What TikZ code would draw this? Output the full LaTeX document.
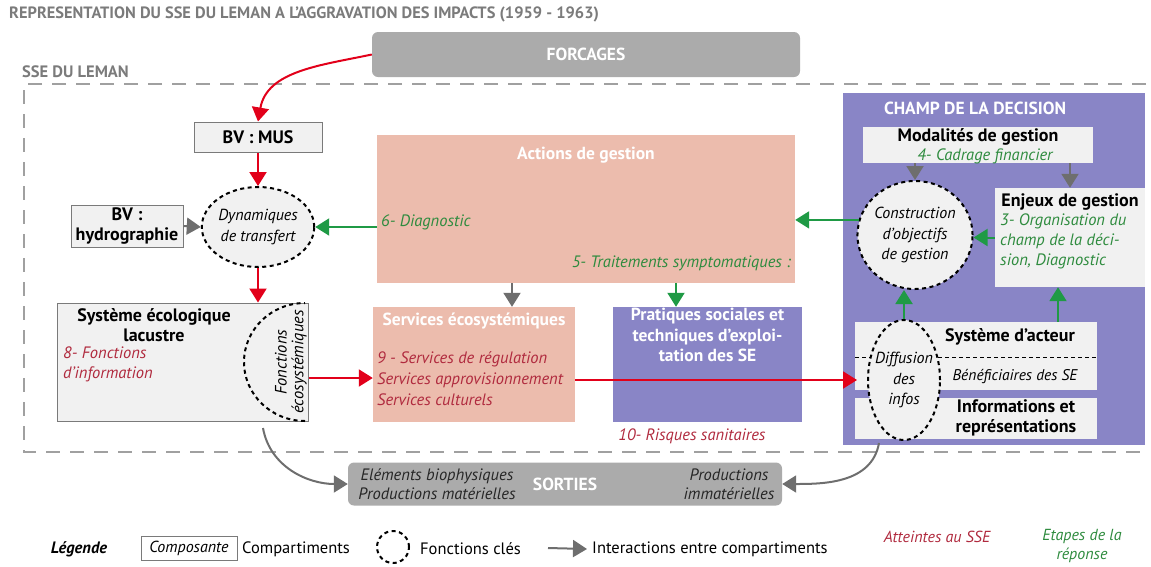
\documentclass[tikz,border=0pt]{standalone}
\usepackage{fontspec}
\setmainfont{PT Sans}
\usetikzlibrary{arrows.meta,shapes.geometric,calc}
\definecolor{redA}{HTML}{E2001A}
\definecolor{redT}{HTML}{B02A3E}
\definecolor{greenA}{HTML}{1F9A45}
\definecolor{greenT}{HTML}{2E8B3E}
\definecolor{grayA}{HTML}{6E6E6E}
\definecolor{purp}{HTML}{8985C6}
\definecolor{salmon}{HTML}{ECBCAD}
\definecolor{boxfill}{HTML}{F1F1F1}
\definecolor{boxline}{HTML}{7A7A7A}
\definecolor{forc}{HTML}{ABABAB}
\definecolor{titlegray}{HTML}{7B7B7B}
\definecolor{bnd}{HTML}{A0A0A0}
\begin{document}
\begin{tikzpicture}[x=1pt,y=-1pt,
  arr/.style={line width=2pt,-{Triangle[length=14pt,width=17pt]}},
  redarr/.style={arr,draw=redA},
  greenarr/.style={arr,draw=greenA},
  grayarr/.style={arr,draw=grayA},
  compbox/.style={draw=boxline,fill=boxfill,line width=1pt,inner sep=0pt},
  plainbox/.style={fill=boxfill,inner sep=0pt},
  func/.style={ellipse,draw=black,fill=boxfill,line width=2pt,dash pattern=on 4pt off 3.5pt,inner sep=0pt,align=center,font=\itshape\fontsize{16}{20.5}\selectfont},
  ttl/.style={font=\bfseries\fontsize{18}{20.5}\selectfont,text=black,align=center,inner sep=0pt},
  whttl/.style={font=\bfseries\fontsize{17.5}{20.5}\selectfont,text=white,align=center,inner sep=0pt},
  itl/.style={font=\itshape\fontsize{16.5}{20}\selectfont,inner sep=0pt},
  redtxt/.style={itl,text=redT},
  greentxt/.style={itl,text=greenT},
  leg/.style={font=\fontsize{16.5}{19}\selectfont,inner sep=0pt}]
\useasboundingbox (0,0) rectangle (1151,566);

% title
\node[font=\bfseries\fontsize{16.4}{18}\selectfont,text=titlegray,anchor=west,inner sep=0pt] (title) at (9,14) {REPRESENTATION DU SSE DU LEMAN A L'AGGRAVATION DES IMPACTS (1959 - 1963)};
\node[font=\bfseries\fontsize{16.5}{18}\selectfont,text=titlegray,anchor=west,inner sep=0pt] (sse) at (22,72) {SSE DU LEMAN};
% boundary
\draw[bnd,line width=1.6pt,dash pattern=on 14pt off 10pt] (1146,84) -- (24,84) -- (24,452) -- (1146,452);

% forcages
\node[fill=forc,rounded corners=6pt,minimum width=428,minimum height=45,whttl] (forc) at (586,54.5) {FORCAGES};

% left column
\node[compbox,minimum width=128,minimum height=30,ttl] (mus) at (258,137) {BV : MUS};
\node[compbox,minimum width=112,minimum height=42,ttl] (hydro) at (127,226) {BV :\\hydrographie};
\node[func,minimum width=92,minimum height=80] (dyn) at (258,227) {Dynamiques\\de transfert};
\node[compbox,minimum width=251,minimum height=118] (seco) at (182.5,362) {};
\node[ttl] (secot) at (154,325) {Système écologique\\lacustre};
\node[redtxt,anchor=north west,align=left] (f8) at (63,347) {8- Fonctions\\d'information};
\draw[black,line width=2pt,dash pattern=on 4pt off 3.5pt] (305,421) arc[start angle=90,end angle=270,x radius=61,y radius=59];
\node[itl,rotate=90] (fe1) at (281,362) {Fonctions};
\node[itl,rotate=90] (fe2) at (299,362) {écosystémiques};

% actions de gestion
\node[fill=salmon,minimum width=418,minimum height=148,inner sep=0pt] (act) at (586,209) {};
\node[whttl] (actt) at (586,155) {Actions de gestion};
\node[greentxt,anchor=west] (d6) at (381,222) {6- Diagnostic};
\node[greentxt,anchor=east] (t5) at (791,263) {5- Traitements symptomatiques :};

% services
\node[fill=salmon,minimum width=202,minimum height=115,inner sep=0pt] (serv) at (474,364.5) {};
\node[whttl] (servt) at (474,321) {Services écosystémiques};
\node[redtxt,anchor=north west,align=left,font=\itshape\fontsize{16.5}{21}\selectfont] (s9) at (377,351) {9 - Services de régulation\\Services approvisionnement\\Services culturels};

% pratiques
\node[fill=purp,minimum width=189,minimum height=115,inner sep=0pt] (prat) at (707.5,364.5) {};
\node[whttl,anchor=north] (pratt) at (707.5,308) {Pratiques sociales et\\techniques d'exploi-\\tation des SE};
\node[redtxt] (r10) at (692,436) {10- Risques sanitaires};

% champ de la decision
\node[fill=purp,minimum width=302,minimum height=352,inner sep=0pt] (champ) at (994,269) {};
\node[whttl] (champt) at (975,108) {CHAMP DE LA DECISION};
\node[plainbox,minimum width=230,minimum height=36] (mod) at (978,145) {};
\node[ttl] (modt) at (978,137) {Modalités de gestion};
\node[greentxt] (mod4) at (985,156) {4- Cadrage financier};
\node[plainbox,minimum width=150,minimum height=99] (enj) at (1070,237.5) {};
\node[ttl] (enjt) at (1070,202) {Enjeux de gestion};
\node[greentxt,anchor=north west,align=left] (enj3) at (1000,214) {3- Organisation du\\champ de la déci-\\sion, Diagnostic};
\node[func,minimum width=100,minimum height=108] (cons) at (915,235) {Construction\\d'objectifs\\de gestion};

\node[plainbox,minimum width=242,minimum height=68] (sa) at (976,356) {};
\node[plainbox,minimum width=242,minimum height=41] (inf) at (976,418.5) {};
\node[func,minimum width=72,minimum height=120,fill=boxfill] (diff) at (904,380) {};
\draw[black,line width=1pt,dash pattern=on 4pt off 3pt] (855,357) -- (870,357);
\draw[black,line width=1pt,dash pattern=on 4pt off 3pt] (938,357) -- (1097,357);
\node[func,draw=none,fill=none] (difft) at (904,380) {Diffusion\\des\\infos};
\node[ttl] (sat) at (1010,337) {Système d'acteur};
\node[itl,font=\itshape\fontsize{15.5}{18}\selectfont] (ben) at (1015,377) {Bénéficiaires des SE};
\node[ttl] (inft) at (1016,418) {Informations et\\représentations};

% sorties
\node[fill=forc,rounded corners=6pt,minimum width=434,minimum height=43,whttl] (sort) at (565,484) {SORTIES};
\node[itl,align=center,font=\itshape\fontsize{16.5}{19.5}\selectfont,text=black!85] (so1) at (437,484) {Eléments biophysiques\\Productions matérielles};
\node[itl,align=center,font=\itshape\fontsize{16.5}{19.5}\selectfont,text=black!85] (so2) at (729,484) {Productions\\immatérielles};

% arrows
\draw[redarr] (forc.west) to[out=192,in=80] (mus.north);
\draw[redarr] (mus.south) -- (dyn.north);
\draw[redarr] (dyn.south) -- (dyn.south |- seco.north);
\draw[grayarr] (hydro.east) -- (dyn.west);
\draw[greenarr] (act.west |- dyn.east) -- (dyn.east);
\draw[redarr] ([yshift=-16pt]seco.east) -- ([yshift=-16pt]seco.east -| serv.west);
\draw[redarr] (serv.east |- diff.west) -- ([xshift=-10pt]diff.west);
\coordinate (ga) at (512,283);
\coordinate (gb) at (676,283);
\draw[grayarr] (ga) -- (ga |- serv.north);
\draw[greenarr] (gb) -- (gb |- prat.north);
\draw[greenarr] (cons.165) -- (cons.165 -| act.east);
\draw[greenarr] (enj.west) -- (enj.west -| cons.east);
\draw[grayarr] (cons.north |- mod.south) -- (cons.north);
\draw[grayarr] (enj.north |- mod.south) -- (enj.north);
\draw[greenarr] (diff.north) -- (diff.north |- cons.south);
\coordinate (eS) at ([xshift=-12pt]enj.south);
\draw[greenarr] (eS |- sa.north) -- (eS);
\coordinate (sA) at (263,428);
\coordinate (sB) at (879,443);
\draw[grayarr] (sA) to[out=-80,in=180] (sort.west);
\draw[grayarr] (sB) to[out=-100,in=0] (sort.east);

% legend
\node[font=\bfseries\itshape\fontsize{16.5}{19}\selectfont,inner sep=0pt] (lg) at (79,549) {Légende};
\node[draw=boxline,line width=1pt,minimum width=96,minimum height=24,inner sep=2pt,font=\itshape\fontsize{16}{19}\selectfont] (lbox) at (189,548) {Composante};
\node[leg,anchor=west] (lcomp) at (242,549) {Compartiments};
\node[ellipse,draw=black,line width=2pt,dash pattern=on 4pt off 3.5pt,minimum width=32,minimum height=32,inner sep=0pt] (lcirc) at (393,547) {};
\node[leg,anchor=west] (lfonc) at (420,549) {Fonctions clés};
\coordinate (la) at (548,548);
\node[leg,anchor=west] (linter) at (592,549) {Interactions entre compartiments};
\draw[grayarr] (la) -- ([xshift=-5pt]linter.west);
\node[redtxt,font=\itshape\fontsize{16}{19}\selectfont] (latt) at (937,537) {Atteintes au SSE};
\node[greentxt,align=center,font=\itshape\fontsize{16}{19}\selectfont] (letp) at (1082,546) {Etapes de la\\réponse};
\end{tikzpicture}
\end{document}
